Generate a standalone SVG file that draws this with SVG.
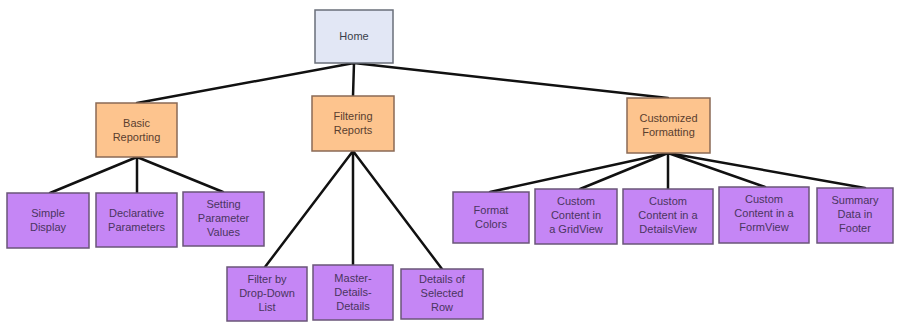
<svg xmlns="http://www.w3.org/2000/svg" width="897" height="322" viewBox="0 0 897 322">
<style>
.c{stroke:#111;stroke-width:2.5;fill:none;stroke-linecap:round}
.home rect{fill:#e2e7f5;stroke:#6a6f7a;stroke-width:1.5}
.cat rect{fill:#fdc48e;stroke:#8a6a55;stroke-width:1.5}
.leaf rect{fill:#c586f5;stroke:#6a5578;stroke-width:1.5}
text{font-family:"Liberation Sans",Arial,sans-serif;font-size:11px;text-anchor:middle}
.home text{fill:#3a3f4a}
.cat text{fill:#5a3e2e}
.leaf text{fill:#4a3560}
</style>
<rect width="897" height="322" fill="#fff"/>
<g id="connectors">
<path class="c" d="M354 63L137 103M354 63L353 96M354 63L668 98"/>
<path class="c" d="M137 157L50 193M137 157L137 193M137 157L223 192"/>
<path class="c" d="M353 151L265 267M353 151L353 265M353 151L442 269"/>
<path class="c" d="M668 153L490 192M668 153L580 189M668 153L668 189M668 153L765 187M668 153L865 188"/>
</g>
<g id="home" class="home"><rect x="315" y="10" width="78" height="53"/><text x="354" y="40">Home</text></g>
<g id="basic" class="cat"><rect x="96" y="103" width="81" height="54"/><text x="136.5" y="127">Basic</text><text x="136.5" y="141">Reporting</text></g>
<g id="filtering" class="cat"><rect x="312" y="96" width="82" height="55"/><text x="353" y="120">Filtering</text><text x="353" y="134">Reports</text></g>
<g id="customized" class="cat"><rect x="627" y="98" width="83" height="55"/><text x="668.5" y="122">Customized</text><text x="668.5" y="136">Formatting</text></g>
<g id="simple" class="leaf"><rect x="7" y="193" width="82" height="55"/><text x="48" y="217">Simple</text><text x="48" y="231">Display</text></g>
<g id="declarative" class="leaf"><rect x="96" y="193" width="81" height="54"/><text x="136.5" y="217">Declarative</text><text x="136.5" y="231">Parameters</text></g>
<g id="setting" class="leaf"><rect x="183" y="192" width="81" height="54"/><text x="223.5" y="208">Setting</text><text x="223.5" y="222">Parameter</text><text x="223.5" y="236">Values</text></g>
<g id="filterby" class="leaf"><rect x="227" y="267" width="80" height="54"/><text x="267" y="283">Filter by</text><text x="267" y="297">Drop-Down</text><text x="267" y="311">List</text></g>
<g id="master" class="leaf"><rect x="313" y="265" width="80" height="55"/><text x="353" y="282">Master-</text><text x="353" y="296">Details-</text><text x="353" y="310">Details</text></g>
<g id="detailsrow" class="leaf"><rect x="401" y="269" width="82" height="50"/><text x="442" y="283">Details of</text><text x="442" y="297">Selected</text><text x="442" y="311">Row</text></g>
<g id="format" class="leaf"><rect x="453" y="192" width="76" height="51"/><text x="491" y="214">Format</text><text x="491" y="228">Colors</text></g>
<g id="gridview" class="leaf"><rect x="535" y="189" width="82" height="55"/><text x="576" y="205">Custom</text><text x="576" y="219">Content in</text><text x="576" y="233">a GridView</text></g>
<g id="detailsview" class="leaf"><rect x="623" y="189" width="90" height="55"/><text x="668" y="205">Custom</text><text x="668" y="219">Content in a</text><text x="668" y="233">DetailsView</text></g>
<g id="formview" class="leaf"><rect x="719" y="187" width="90" height="56"/><text x="764" y="203">Custom</text><text x="764" y="217">Content in a</text><text x="764" y="231">FormView</text></g>
<g id="summary" class="leaf"><rect x="817" y="188" width="76" height="55"/><text x="855" y="204">Summary</text><text x="855" y="218">Data in</text><text x="855" y="232">Footer</text></g>
</svg>
